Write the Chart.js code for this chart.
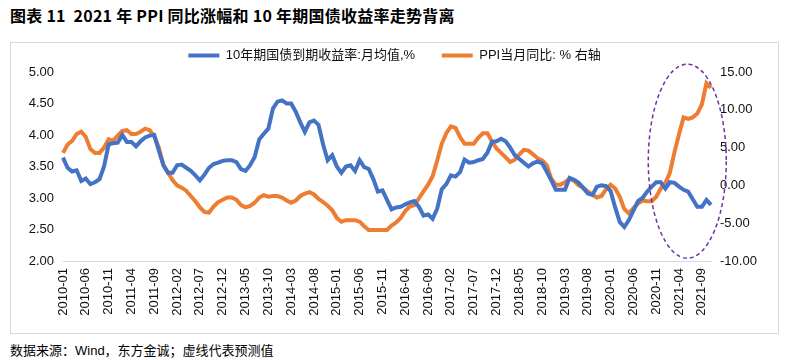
<!DOCTYPE html>
<html>
<head>
<meta charset="utf-8">
<script src="https://cdn.jsdelivr.net/npm/chart.js@4.4.1/dist/chart.umd.min.js"></script>
<style>
  body { margin: 0; width: 787px; height: 360px; background: #fff; position: relative; overflow: hidden; }
  #title { position: absolute; left: 10px; top: 3px; font: bold 16px "Noto Sans CJK SC", sans-serif; letter-spacing: 0.25px; white-space: pre; color: #000; }
  #box { position: absolute; left: 10px; top: 42px; width: 767px; height: 290px; border: 1px solid #d9d9d9; }
  #foot { position: absolute; left: 10px; top: 340px; font: 13px "Liberation Sans", "Noto Sans CJK SC", sans-serif; color: #000; }
</style>
</head>
<body>
<div id="title">图表 11  2021 年 PPI 同比涨幅和 10 年期国债收益率走势背离</div>
<div id="box"><canvas id="chart" width="767" height="290"></canvas></div>
<div id="foot">数据来源：Wind，东方金诚；虚线代表预测值</div>
<script>
// 月份标签 2010-01 ~ 2021-11
const months = [];
for (let y = 2010; y <= 2021; y++) {
  for (let m = 1; m <= 12; m++) {
    if (y === 2021 && m > 11) break;
    months.push(y + '-' + String(m).padStart(2, '0'));
  }
}

// 10年期国债到期收益率:月均值,% (左轴)
const bondYield = [
  3.64, 3.48, 3.42, 3.44, 3.27, 3.31, 3.22, 3.25, 3.30, 3.50, 3.85, 3.87,
  3.88, 4.00, 3.89, 3.89, 3.82, 3.90, 3.96, 3.99, 4.00, 3.75, 3.52, 3.40,
  3.40, 3.52, 3.53, 3.48, 3.43, 3.36, 3.28, 3.37, 3.48, 3.54, 3.56, 3.59,
  3.60, 3.60, 3.57, 3.46, 3.43, 3.52, 3.65, 3.93, 4.02, 4.10, 4.42, 4.53,
  4.55, 4.50, 4.50, 4.37, 4.20, 4.05, 4.20, 4.23, 4.16, 3.85, 3.60, 3.68,
  3.50, 3.40, 3.50, 3.52, 3.43, 3.60, 3.49, 3.46, 3.30, 3.10, 3.12, 2.97,
  2.82, 2.85, 2.86, 2.90, 2.93, 2.95, 2.86, 2.72, 2.74, 2.67, 2.83, 3.14,
  3.22, 3.36, 3.34, 3.41, 3.61, 3.56, 3.57, 3.60, 3.62, 3.72, 3.89, 3.90,
  3.94, 3.90, 3.80, 3.68, 3.62, 3.56, 3.50, 3.55, 3.58, 3.55, 3.42, 3.28,
  3.13, 3.13, 3.13, 3.32, 3.29, 3.24, 3.16, 3.07, 3.05, 3.18, 3.20, 3.19,
  3.11, 2.85, 2.62, 2.54, 2.65, 2.80, 2.95, 3.00, 3.10, 3.18, 3.25, 3.25,
  3.15, 3.25, 3.24, 3.18, 3.13, 3.10, 2.98, 2.86, 2.86, 2.97, 2.89
];

// PPI当月同比,% (右轴)
const ppiYoY = [
  4.3, 5.4, 5.9, 6.8, 7.1, 6.4, 4.8, 4.3, 4.3, 5.0, 6.1, 5.9,
  6.6, 7.2, 7.3, 6.8, 6.8, 7.1, 7.5, 7.3, 6.5, 5.0, 2.7, 1.7,
  0.7, 0.0, -0.3, -0.7, -1.4, -2.1, -2.9, -3.5, -3.6, -2.8, -2.2, -1.9,
  -1.6, -1.6, -1.9, -2.6, -2.9, -2.7, -2.3, -1.6, -1.3, -1.5, -1.4, -1.4,
  -1.6, -2.0, -2.3, -2.0, -1.4, -1.1, -0.9, -1.2, -1.8, -2.2, -2.7, -3.3,
  -4.3, -4.8, -4.6, -4.6, -4.6, -4.8, -5.4, -5.9, -5.9, -5.9, -5.9, -5.9,
  -5.3, -4.9, -4.3, -3.4, -2.8, -2.6, -1.7, -0.8, 0.1, 1.2, 3.3, 5.5,
  6.9, 7.8, 7.6, 6.4, 5.5, 5.5, 5.5, 6.3, 6.9, 6.9, 5.8, 4.9,
  4.3, 3.7, 3.1, 3.4, 4.1, 4.7, 4.6, 4.1, 3.6, 3.3, 2.7, 0.9,
  0.1, 0.1, 0.4, 0.9, 0.6, 0.0, -0.3, -0.8, -1.2, -1.6, -1.4, -0.5,
  0.1, -0.4, -1.5, -3.1, -3.7, -3.0, -2.4, -2.0, -2.1, -2.1, -1.5, -0.4,
  0.3, 1.7, 4.4, 6.8, 9.0, 8.8, 9.0, 9.5, 10.7, 13.5, 12.9
];

const seriesNames = ['10年期国债到期收益率:月均值,%', 'PPI当月同比: % 右轴'];

const tickFont = { family: '"Liberation Sans", "Noto Sans CJK SC", sans-serif', size: 13 };

// 虚线椭圆，圈出2021年的背离区间
const ellipsePlugin = {
  id: 'ellipse',
  afterDatasetsDraw(chart) {
    const x = chart.scales.x.getPixelForValue(136.8);
    const y = chart.scales.y1.getPixelForValue(3.2);
    const ctx = chart.ctx;
    ctx.save();
    ctx.strokeStyle = '#7030a0';
    ctx.lineWidth = 1.5;
    ctx.setLineDash([4, 3]);
    ctx.beginPath();
    ctx.ellipse(x, y, 39, 97, 0, 0, 2 * Math.PI);
    ctx.stroke();
    ctx.restore();
  }
};

new Chart(document.getElementById('chart'), {
  type: 'line',
  data: {
    labels: months,
    datasets: [
      { label: seriesNames[0], data: bondYield, yAxisID: 'y', borderColor: '#4472c4', backgroundColor: '#4472c4', borderWidth: 4, pointRadius: 0, tension: 0 },
      { label: seriesNames[1], data: ppiYoY, yAxisID: 'y1', borderColor: '#ed7d31', backgroundColor: '#ed7d31', borderWidth: 4, pointRadius: 0, tension: 0 }
    ]
  },
  options: {
    responsive: false,
    animation: false,
    layout: { padding: { top: 1, left: 0, right: 0, bottom: 0 } },
    plugins: {
      tooltip: { enabled: false },
      legend: {
        position: 'top',
        labels: {
          usePointStyle: true,
          pointStyle: 'line',
          pointStyleWidth: 31,
          padding: 5,
          color: '#111',
          font: tickFont,
          generateLabels(chart) {
            const items = Chart.defaults.plugins.legend.labels.generateLabels(chart);
            items[0].text += '      ';
            return items;
          }
        }
      }
    },
    scales: {
      x: {
        grid: { display: false, drawTicks: false },
        border: { display: true, color: '#d9d9d9', width: 1 },
        offset: false,
        ticks: {
          autoSkip: false, maxRotation: 90, minRotation: 90, padding: 7,
          color: '#111', font: tickFont,
          callback(v, i) { return i % 5 === 0 ? this.getLabelForValue(v) : ''; }
        },
        afterFit(s) { s.height = 72; }
      },
      y: {
        position: 'left', min: 2, max: 5,
        grid: { display: false, drawTicks: false },
        border: { display: false },
        ticks: { stepSize: 0.5, padding: 9, color: '#111', font: tickFont, callback: v => v.toFixed(2) },
        afterFit(s) { s.width = 52; }
      },
      y1: {
        position: 'right', min: -10, max: 15,
        grid: { display: false, drawTicks: false },
        border: { display: false },
        ticks: { stepSize: 5, padding: 9, color: '#111', font: tickFont, callback: v => v.toFixed(2) },
        afterFit(s) { s.width = 67; }
      }
    }
  },
  plugins: [ellipsePlugin]
});
</script>
</body>
</html>
